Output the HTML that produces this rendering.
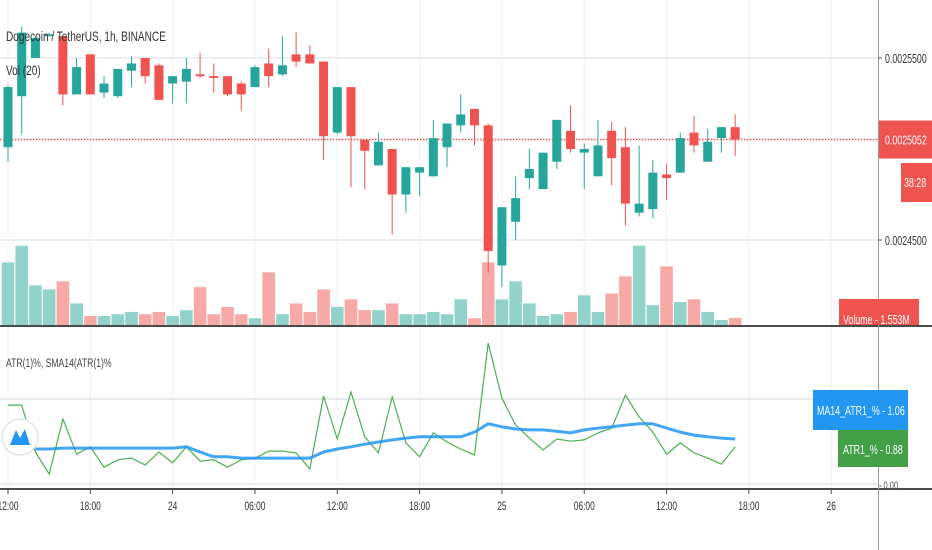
<!DOCTYPE html>
<html><head><meta charset="utf-8"><style>
html,body{margin:0;padding:0;background:#fff;}
svg{display:block;font-family:"Liberation Sans",sans-serif;}
</style></head><body>
<svg id="chart" width="932" height="550" viewBox="0 0 932 550">
<rect x="0" y="0" width="932" height="550" fill="#fff"/>
<g id="grid"></g>
<g id="vol"></g>
<g id="candles"></g>
<g id="ind"></g>
<g id="axes"></g>
</svg>
<script>
const openP=[25010,25290,25500,25620,25620,25300,25520,25310,25290,25430,25500,25460,25360,25370,25410,25400,25400,25360,25340,25470,25410,25520,25520,25480,25090,25340,25050,24910,25000,24750,24870,24850,25010,25130,25220,25130,24360,24600,24840,24780,24930,25100,24980,24850,25100,25010,24650,24670,24860,24870,25090,24930,25060,25120];
const closeP=[25340,25640,25610,25630,25300,25450,25300,25360,25440,25470,25400,25270,25400,25440,25400,25390,25300,25300,25450,25400,25460,25480,25470,25070,25340,25070,24990,25040,24750,24900,24900,25060,25140,25190,25130,24440,24680,24730,24890,24980,25160,25000,25000,25020,24950,24700,24700,24870,24840,25060,25020,25040,25120,25052];
const highP=[25350,25670,25620,25640,25620,25500,25520,25400,25440,25510,25500,25470,25400,25500,25530,25470,25400,25370,25460,25550,25620,25640,25570,25480,25340,25340,25050,25090,25000,24900,24900,25160,25140,25300,25220,25140,24680,24850,25000,24980,25160,25240,25030,25160,25150,25120,25020,24940,24920,25090,25180,25110,25120,25190];
const lowP=[24930,25080,25500,25620,25240,25300,25300,25280,25280,25340,25360,25270,25250,25250,25390,25310,25290,25210,25340,25340,25400,25450,25470,24940,25080,24790,24780,24910,24530,24650,24740,24850,24900,25090,25020,24320,24240,24500,24780,24780,24890,24980,24780,24850,24800,24580,24630,24620,24720,24870,24980,24930,24980,24960];
const volumeM=[13.9,17.6,8.8,7.9,9.7,4.8,2.0,2.0,2.4,2.9,2.4,2.9,2.0,3.3,8.4,2.4,4.0,2.4,1.5,11.7,2.4,4.8,2.9,7.9,4.0,5.7,3.3,3.3,4.8,2.4,2.4,2.9,2.4,5.7,1.5,13.9,5.7,9.7,4.8,2.0,2.4,2.9,6.6,2.9,7.0,10.8,17.6,4.4,13.0,5.1,5.7,2.9,1.1,1.553];
const atrPct=[1.84,1.84,0.76,0.25,1.52,0.71,0.88,0.41,0.58,0.62,0.46,0.76,0.51,0.88,0.55,0.58,0.41,0.58,0.62,0.78,0.78,0.74,0.37,2.05,1.06,2.14,1.11,0.74,2.03,0.97,0.65,1.20,0.99,0.83,0.69,3.27,2.00,1.38,1.08,0.81,1.06,1.01,1.04,1.20,1.31,2.07,1.57,1.22,0.71,0.97,0.74,0.62,0.48,0.88];
const smaPct=[null,null,0.83,0.83,0.85,0.85,0.85,0.85,0.85,0.85,0.85,0.85,0.85,0.88,0.76,0.65,0.65,0.62,0.62,0.62,0.62,0.62,0.62,0.76,0.83,0.88,0.94,0.99,1.04,1.08,1.11,1.11,1.11,1.11,1.22,1.41,1.34,1.29,1.27,1.27,1.24,1.20,1.27,1.31,1.34,1.38,1.41,1.41,1.31,1.22,1.15,1.11,1.08,1.06];
const timeLabels=["12:00","18:00","24","06:00","12:00","18:00","25","06:00","12:00","18:00","26"];
const timeLabelIdx=[0,6,12,18,24,30,36,42,48,54,60];
const priceTicks=[25500,24500];

const NS="http://www.w3.org/2000/svg";
const X0=8, STEP=13.72;
function xAt(i){return X0+i*STEP;}
function yPrice(p){return 58+(25500-p)*182/1000;}
function yVol(v){return 325-v/0.222;}
function yInd(v){return 485-v*43.4;}
function mk(parent,tag,attrs){const e=document.createElementNS(NS,tag);for(const k in attrs)e.setAttribute(k,attrs[k]);parent.appendChild(e);return e;}
function txt(parent,s,x,y,size,fill,anchor,sx){const t=mk(parent,'text',{transform:`translate(${x},${y}) scale(${sx||0.75},1)`,'font-size':size,fill:fill,'text-anchor':anchor||'start'});t.textContent=s;return t;}

const grid=document.getElementById('grid');
timeLabelIdx.forEach((idx,k)=>{
  const l=mk(grid,'line',{x1:xAt(idx),x2:xAt(idx),y1:0,y2:488,stroke:'#eef1f4','stroke-width':1});
  
  
});
priceTicks.forEach(p=>{
  const l=mk(grid,'line',{x1:0,x2:878,y1:yPrice(p),y2:yPrice(p),stroke:'#e6eaee','stroke-width':1.5});
  
  
});
[399,484].forEach(y=>{
  const l=mk(grid,'line',{x1:0,x2:878,y1:y,y2:y,stroke:'#e0e3e8','stroke-width':1.5});
  
  
});

// volume
const vol=document.getElementById('vol');
volumeM.forEach((v,i)=>{
  const up=closeP[i]>=openP[i];
  const y=yVol(v);
  const r=mk(vol,'rect',{x:xAt(i)-6.3,y:y,width:12.6,height:325-y,fill:up?'#91d3cb':'#f6a9a7'});
  
  
});

// last price line
const pl=mk(document.getElementById('candles'),'line',{x1:0,x2:878,y1:yPrice(closeP[closeP.length-1]),y2:yPrice(closeP[closeP.length-1]),stroke:'#ef5350','stroke-width':1.5,'stroke-dasharray':'1.5,1.5'});



// candles
const cg=document.getElementById('candles');
openP.forEach((o,i)=>{
  const c=closeP[i],up=c>=o,col=up?'#26a69a':'#ef5350';
  const x=xAt(i);
  const w=mk(cg,'line',{x1:x,x2:x,y1:yPrice(highP[i]),y2:yPrice(lowP[i]),stroke:col,'stroke-width':1});
  
  
  const top=yPrice(Math.max(o,c)),bot=yPrice(Math.min(o,c));
  const b=mk(cg,'rect',{x:x-4.5,y:top,width:9,height:Math.max(1.5,bot-top),fill:col});
  
  
});

// indicator
const ind=document.getElementById('ind');
let dA='';atrPct.forEach((v,i)=>{dA+=(i?'L':'M')+xAt(i).toFixed(1)+','+yInd(v).toFixed(1);});
const pa=mk(ind,'path',{d:dA,fill:'none',stroke:'#4caf50','stroke-width':1.2});


let dS='',first=true;smaPct.forEach((v,i)=>{if(v==null)return;dS+=(first?'M':'L')+xAt(i).toFixed(1)+','+yInd(v).toFixed(1);first=false;});
const ps=mk(ind,'path',{d:dS,fill:'none',stroke:'#2196f3','stroke-width':3,'stroke-linejoin':'round',opacity:0.85});



// logo
const logo=mk(ind,'g',{});


mk(logo,'circle',{cx:20,cy:437,r:18,fill:'#fff',stroke:'#e3e3e3','stroke-width':1.5});
mk(logo,'path',{d:'M10,445 L16,430 L20,438 L25,429 L30,445 Z',fill:'#2196f3'});

// axes
const ax=document.getElementById('axes');
let e;
e=mk(ax,'line',{x1:0,x2:932,y1:326,y2:326,stroke:'#4a4a4a','stroke-width':2});


e=mk(ax,'line',{x1:0,x2:932,y1:489,y2:489,stroke:'#4a4a4a','stroke-width':2});


e=mk(ax,'line',{x1:878.5,x2:878.5,y1:0,y2:550,stroke:'#9a9a9a','stroke-width':1});


timeLabelIdx.forEach((idx,k)=>{
  const tk=mk(ax,'line',{x1:xAt(idx),x2:xAt(idx),y1:489,y2:494,stroke:'#4a4a4a','stroke-width':1});
  
  
  const t=txt(ax,timeLabels[k],xAt(idx),510,12,'#333','middle',0.7);
  
  
});
priceTicks.forEach(p=>{
  const tk=mk(ax,'line',{x1:878,x2:882,y1:yPrice(p),y2:yPrice(p),stroke:'#555'});
  
  
  const t=txt(ax,(p/1e7).toFixed(7),885,yPrice(p)+5,13,'#333','start',0.68);
  
  
});
// last price badge
const lp=closeP[closeP.length-1], ly=yPrice(lp);
e=mk(ax,'rect',{x:879,y:ly-19,width:53,height:38,fill:'#ef5350'});


e=txt(ax,(lp/1e7).toFixed(7),885,ly+5,13,'#fff','start',0.68);


e=mk(ax,'rect',{x:901,y:163,width:31,height:39,fill:'#ef5350'});


e=txt(ax,'38:28',904,187,13,'#fff','start',0.68);


// volume badge
e=mk(ax,'rect',{x:839,y:299,width:80,height:26,fill:'#ef5350'});


e=txt(ax,'Volume - '+volumeM[volumeM.length-1].toFixed(3)+'M',843,324,13,'#fff','start',0.68);


// indicator badges
e=mk(ax,'rect',{x:813,y:390,width:95,height:40,fill:'#2196f3'});


e=txt(ax,'MA14_ATR1_% - '+smaPct[smaPct.length-1].toFixed(2),817,415,13,'#fff','start',0.68);


e=mk(ax,'rect',{x:838,y:430,width:70,height:37,fill:'#43a047'});


e=txt(ax,'ATR1_% - '+atrPct[atrPct.length-1].toFixed(2),843,454,13,'#fff','start',0.68);


e=txt(ax,'- 0.00',879,489,11,'#555','start',0.68);


// titles
e=txt(ax,'Dogecoin / TetherUS, 1h, BINANCE',6,41,14,'#333','start',0.72);


e=txt(ax,'Vol (20)',6,75,14,'#333','start',0.72);


e=txt(ax,'ATR(1)%, SMA14(ATR(1)%',6,367,12,'#444','start',0.72);


</script>
</body></html>
